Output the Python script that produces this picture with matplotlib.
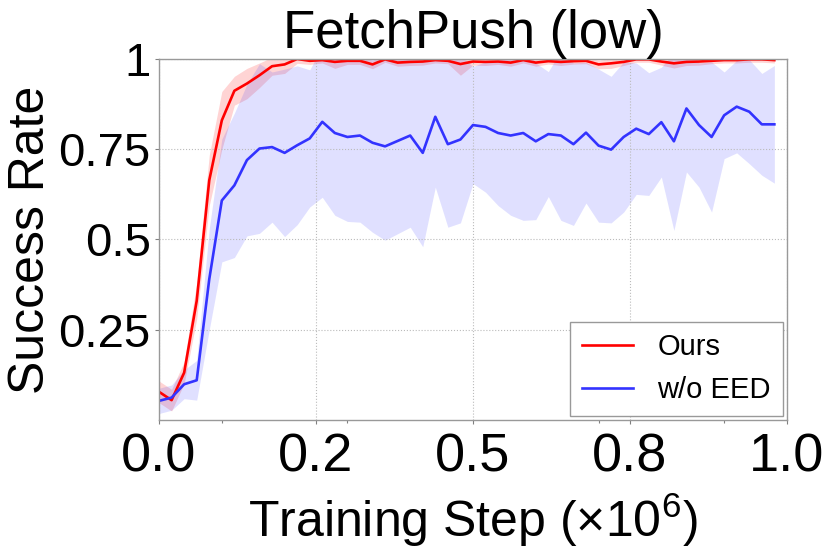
import numpy as np
import matplotlib
matplotlib.use("Agg")
import matplotlib.pyplot as plt
from matplotlib.ticker import FixedLocator, FormatStrFormatter

plt.rcParams['font.family'] = ['Liberation Sans', 'DejaVu Sans']
plt.rcParams['mathtext.fontset'] = 'custom'
plt.rcParams['mathtext.rm'] = 'Liberation Sans'
plt.rcParams['mathtext.it'] = 'Liberation Sans'

# training step (x 1e6)
steps = np.arange(50) * 0.02

ours_mean = [0.078, 0.055, 0.131, 0.33, 0.664, 0.83, 0.912, 0.932, 0.955, 0.98,
             0.985, 1.0, 0.995, 0.997, 0.992, 0.995, 0.995, 0.985, 0.999, 0.99,
             0.992, 0.993, 0.997, 0.995, 0.986, 0.993, 0.992, 0.993, 0.99, 0.997,
             0.99, 0.994, 0.992, 0.994, 0.995, 0.985, 0.988, 0.992, 0.999, 0.999,
             0.993, 0.988, 0.992, 0.993, 0.995, 0.997, 0.997, 0.999, 0.999, 0.997]
ours_std = [0.03, 0.03, 0.03, 0.05, 0.07, 0.08, 0.04, 0.042, 0.034, 0.025,
            0.025, 0.012, 0.01, 0.008, 0.018, 0.01, 0.01, 0.012, 0.008, 0.01,
            0.01, 0.01, 0.008, 0.008, 0.031, 0.01, 0.01, 0.008, 0.01, 0.008,
            0.01, 0.008, 0.01, 0.008, 0.008, 0.012, 0.014, 0.01, 0.008, 0.008,
            0.01, 0.013, 0.01, 0.01, 0.008, 0.008, 0.008, 0.008, 0.008, 0.008]

noeed_mean = [0.053, 0.062, 0.099, 0.11, 0.39, 0.608, 0.65, 0.72, 0.752, 0.756,
              0.74, 0.761, 0.78, 0.826, 0.795, 0.784, 0.788, 0.768, 0.758, 0.773,
              0.788, 0.74, 0.84, 0.764, 0.777, 0.817, 0.812, 0.795, 0.788, 0.795,
              0.772, 0.792, 0.788, 0.764, 0.796, 0.76, 0.749, 0.784, 0.807, 0.792,
              0.825, 0.772, 0.863, 0.817, 0.784, 0.844, 0.868, 0.854, 0.819, 0.819]
noeed_std = [0.035, 0.035, 0.04, 0.055, 0.14, 0.17, 0.2, 0.21, 0.235, 0.208,
             0.232, 0.22, 0.19, 0.209, 0.228, 0.234, 0.24, 0.248, 0.26, 0.257,
             0.254, 0.26, 0.195, 0.23, 0.231, 0.162, 0.181, 0.201, 0.221, 0.242,
             0.217, 0.173, 0.235, 0.225, 0.195, 0.212, 0.203, 0.208, 0.182, 0.17,
             0.152, 0.247, 0.176, 0.172, 0.208, 0.12, 0.128, 0.144, 0.141, 0.163]

ytick_vals = [0.25, 0.5, 0.75, 1.0]
ytick_labels = ['0.25', '0.5', '0.75', '1']
xtick_vals = [0.0, 0.25, 0.5, 0.75, 1.0]

fig = plt.figure(figsize=(8.3, 5.54), dpi=100)
ax = fig.add_axes([0.1916, 0.2419, 0.7565, 0.6516])

om, osd = np.array(ours_mean), np.array(ours_std)
nm, nsd = np.array(noeed_mean), np.array(noeed_std)

ax.fill_between(steps, om - osd, om + osd, color='red', alpha=0.17, linewidth=0)
ax.fill_between(steps, nm - nsd, nm + nsd, color='#3333ff', alpha=0.15, linewidth=0)
ax.plot(steps, om, color='red', lw=1.9, label='Ours')
ax.plot(steps, nm, color='#3333ff', lw=1.9, label='w/o EED')

ax.set_xlim(0, 1)
ax.set_ylim(0, 1)
ax.xaxis.set_major_locator(FixedLocator(xtick_vals))
ax.xaxis.set_minor_locator(FixedLocator([0.1, 0.3, 0.7, 0.9]))
ax.xaxis.set_major_formatter(FormatStrFormatter('%.1f'))
ax.set_yticks(ytick_vals)
ax.set_yticklabels(ytick_labels)

ax.tick_params(axis='x', which='major', labelsize=39, length=3, width=0.8, color='gray', pad=6)
ax.tick_params(axis='x', which='minor', length=2, width=0.8, color='gray')
ax.tick_params(axis='y', which='major', labelsize=34, length=3, width=0.8, color='gray', pad=3)

ax.grid(True, which='major', linestyle=':', color='#bbbbbb', linewidth=0.8)
for sp in ax.spines.values():
    sp.set_color('#999999')
    sp.set_linewidth(1.0)

ax.set_title('FetchPush (low)', fontsize=38, pad=4)
ax.set_ylabel('Success Rate', fontsize=36, labelpad=3)
ax.set_xlabel('Training Step (×10$^{6}$)', fontsize=36, labelpad=6)

leg = ax.legend(loc='lower right', fontsize=21, fancybox=False, framealpha=1,
                edgecolor='#999999', borderaxespad=0.15, handlelength=1.75,
                handletextpad=0.85, labelspacing=0.5)
leg.get_frame().set_linewidth(1.0)

fig.savefig('out.png', dpi=100)
